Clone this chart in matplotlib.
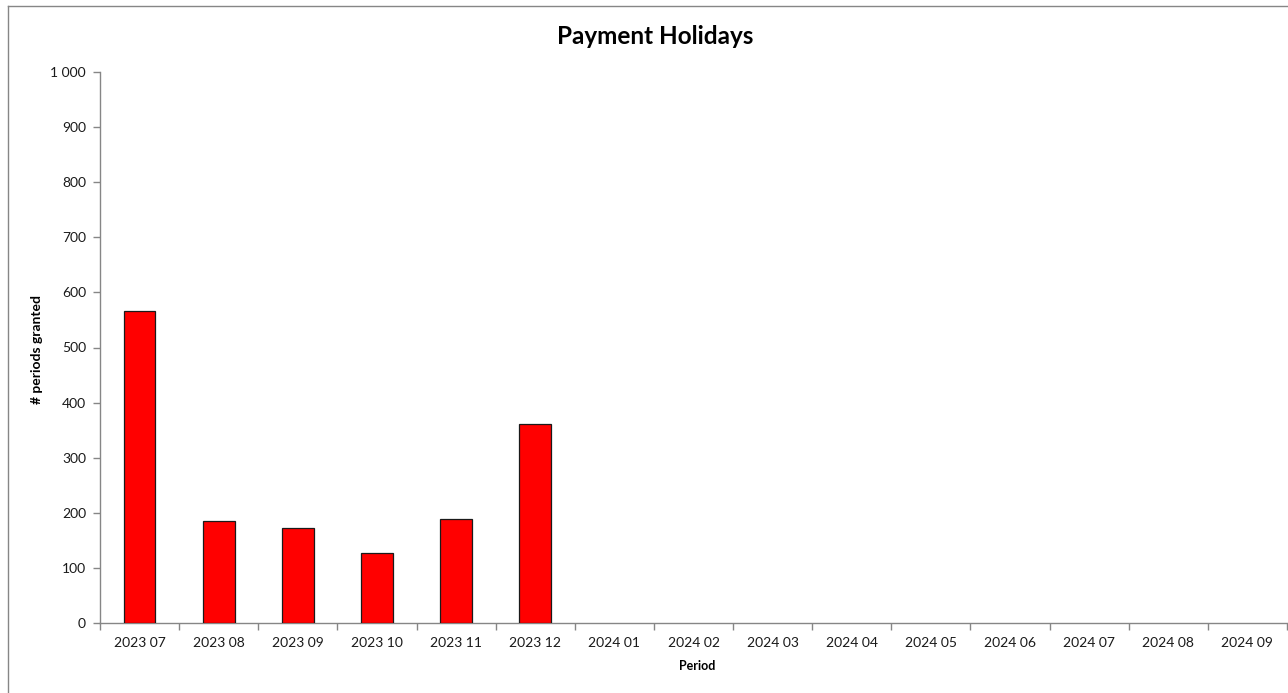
import matplotlib
matplotlib.use("Agg")
import matplotlib.pyplot as plt
from matplotlib.lines import Line2D
from matplotlib.ticker import FuncFormatter, MultipleLocator

# monthly counts, empty months have no bar yet
periods = ["2023 07", "2023 08", "2023 09", "2023 10", "2023 11", "2023 12",
           "2024 01", "2024 02", "2024 03", "2024 04", "2024 05", "2024 06",
           "2024 07", "2024 08", "2024 09"]
granted = [566, 185, 172, 127, 189, 361, 0, 0, 0, 0, 0, 0, 0, 0, 0]

plt.rcParams['font.family'] = ['Lato', 'DejaVu Sans']
axis_grey = "#868686"

fig = plt.figure(figsize=(12.88, 6.93), dpi=100)
W, H = 1288.0, 693.0
ax = fig.add_axes([100 / W, (H - 623) / H, 1187 / W, 551 / H])

x = list(range(len(periods)))
# no outline on empty months
edge_w = [0.9 if v > 0 else 0 for v in granted]
ax.bar(x, granted, width=0.4, color="#ff0000", edgecolor="#1a1a1a", linewidth=edge_w, zorder=3)

ax.set_xlim(-0.5, len(periods) - 0.5)
ax.set_ylim(0, 1000)
ax.yaxis.set_major_locator(MultipleLocator(100))
ax.yaxis.set_major_formatter(FuncFormatter(lambda v, p: "{:,.0f}".format(v).replace(",", " ")))

# category labels centred, tick marks on the boundaries
ax.set_xticks(x)
ax.set_xticklabels(periods)
ax.set_xticks([i - 0.5 for i in range(len(periods) + 1)], minor=True)
ax.tick_params(axis="x", which="major", length=0, pad=10, labelsize=10, colors="#1a1a1a")
ax.tick_params(axis="x", which="minor", length=5, width=1, color=axis_grey)
ax.tick_params(axis="y", length=5, width=1, color=axis_grey, labelsize=10, labelcolor="#1a1a1a", pad=5)

for s in ["top", "right"]:
    ax.spines[s].set_visible(False)
for s in ["left", "bottom"]:
    ax.spines[s].set_color(axis_grey)
    ax.spines[s].set_linewidth(1)

fig.text(655 / W, 1 - 36 / H, "Payment Holidays", fontsize=17.5, fontweight="bold",
         ha="center", va="center")
fig.text(697 / W, 1 - 666 / H, "Period", fontsize=9, fontweight="bold", ha="center", va="center")
fig.text(37 / W, 1 - 349 / H, "# periods granted", fontsize=10, fontweight="bold",
         ha="center", va="center", rotation=90)

# chart area frame
fig.add_artist(Line2D([8 / W, 8 / W], [0, 1 - 6 / H], color=axis_grey, linewidth=1))
fig.add_artist(Line2D([8 / W, 1], [1 - 6 / H, 1 - 6 / H], color=axis_grey, linewidth=1))

fig.savefig("out.png", dpi=100)
